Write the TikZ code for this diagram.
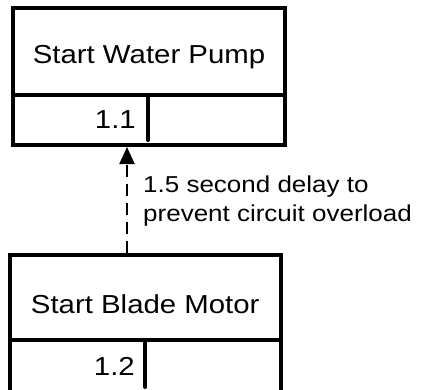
\documentclass[tikz,border=0pt]{standalone}
\usepackage{fontspec}
\setmainfont[FakeStretch=1.13]{Liberation Sans}
\usetikzlibrary{arrows.meta}
\begin{document}
\begin{tikzpicture}[x=1pt,y=-1pt,
  box/.style={draw,line width=4pt,rectangle,outer sep=0pt,inner sep=0pt},
  sep/.style={line width=4pt},
  divider/.style={line width=4pt,line cap=round},
  txt/.style={inner sep=0pt,font=\fontsize{26}{31}\selectfont},
  lbltxt/.style={inner sep=0pt,font=\fontsize{23}{29}\selectfont},
  flow/.style={line width=2.2pt,dash pattern=on 12pt off 7pt,-{Triangle[length=17pt,width=15pt]}}]
\useasboundingbox (0,0) rectangle (425,389);
% top box
\node[box,minimum width=272pt,minimum height=137pt] (top) at (149,76.5) {};
\coordinate (tmid) at (0,95);
\draw[sep] (top.west |- tmid) -- (top.east |- tmid);
\coordinate (tdiv) at (148,95);
\draw[divider] (tdiv) -- (148,140);
\node[txt] (ttitle) at (149,57.5) {Start Water Pump};
\node[txt,anchor=east] (tnum) at (136,119.5) {1.1};
% bottom box
\node[box,minimum width=271.5pt,minimum height=137pt] (bot) at (145.25,323.5) {};
\coordinate (bmid) at (0,340);
\draw[sep] (bot.west |- bmid) -- (bot.east |- bmid);
\coordinate (bdiv) at (145,340);
\draw[divider] (bdiv) -- (145,387);
\node[txt] (btitle) at (145.25,304.5) {Start Blade Motor};
\node[txt,anchor=east] (bnum) at (135,366) {1.2};
% connector
\coordinate (ax) at (127,0);
\draw[flow,shorten >=2pt,shorten <=2pt] (bot.north -| ax) -- (top.south -| ax);
\node[lbltxt,anchor=north west,align=left] (lbl) at (143,176) {1.5 second delay to\\prevent circuit overload};
\end{tikzpicture}
\end{document}
